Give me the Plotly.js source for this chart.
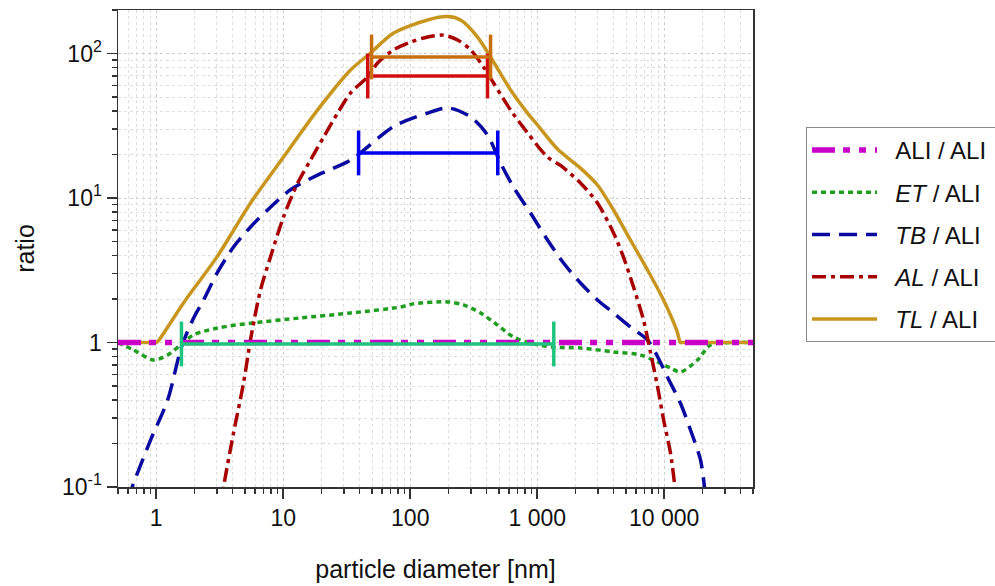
<!DOCTYPE html>
<html>
<head>
<meta charset="utf-8">
<script src="https://cdn.plot.ly/plotly-3.0.1.min.js"></script>
<style>html,body{margin:0;padding:0;background:#fff;}#chart{width:995px;height:586px;}</style>
</head>
<body>
<div id="chart"></div>
<script>
// particle diameter [nm] and ratio values
const xALI = [0.5, 50000];
const yALI = [1, 1];

const xET = [0.5, 0.663, 0.952, 1.23, 1.55, 1.97, 3.04, 5.53, 13.7, 33.9, 84, 106, 197, 263, 358, 487, 650, 885, 1343, 2190, 3990, 6500, 8850, 11200, 13400, 18300, 23100, 33200, 50000];
const yET = [1.0, 0.887, 0.757, 0.82, 0.96, 1.13, 1.26, 1.36, 1.48, 1.60, 1.76, 1.85, 1.91, 1.82, 1.60, 1.32, 1.09, 0.99, 0.93, 0.916, 0.86, 0.82, 0.733, 0.667, 0.625, 0.757, 0.96, 1.0, 1.0];

const xTB = [0.6, 0.647, 0.902, 1.23, 1.58, 1.97, 2.36, 3.02, 4.06, 5.53, 7.52, 11.4, 18.6, 33.9, 73.9, 137, 200, 299, 406, 514, 650, 885, 1205, 1611, 2190, 2980, 3990, 5420, 7380, 8850, 10600, 13400, 16100, 19300, 21000];
const yTB = [0.08, 0.1, 0.211, 0.40, 0.93, 1.48, 1.97, 3.03, 4.58, 6.30, 8.26, 11.4, 14.4, 18.3, 31.2, 38.7, 42, 36.4, 27.3, 17.5, 11.9, 7.87, 5.12, 3.55, 2.58, 1.97, 1.60, 1.28, 1.04, 0.8, 0.577, 0.381, 0.248, 0.154, 0.09];

const xAL = [3.2, 3.39, 4.06, 4.87, 5.53, 6.62, 7.94, 10.05, 13, 16.4, 20.8, 26.8, 33.9, 46.1, 55.3, 73.9, 100.5, 137, 183, 236, 299, 378, 453, 617, 839, 1205, 1526, 2190, 2980, 3990, 4770, 5730, 6870, 7810, 8870, 9890, 11200, 12500];
const yAL = [0.07, 0.1, 0.236, 0.525, 1.05, 2.31, 3.91, 7.39, 12.7, 18.3, 26.4, 38.7, 53.3, 68.8, 86, 106, 120, 130, 134, 124, 106, 80.7, 62.5, 40.6, 28.2, 19.2, 16.8, 12.7, 9.23, 5.73, 3.91, 2.42, 1.43, 0.846, 0.492, 0.291, 0.172, 0.08];

const xTL = [0.5, 0.97, 1.0, 1.05, 1.64, 3.02, 5.53, 10.05, 18.6, 33.9, 48.7, 73.9, 137, 197, 249, 339, 453, 617, 839, 1005, 1443, 2190, 2980, 3990, 5420, 7380, 9870, 12600, 13400, 13900, 50000];
const yTL = [1, 1, 1, 1.04, 1.88, 3.93, 9.23, 19.2, 40.6, 76.9, 100.8, 138.6, 170.6, 180, 170.6, 130, 87.4, 55.9, 38.7, 32, 21.8, 16.1, 12.3, 8.26, 5.12, 3.18, 1.97, 1.2, 1, 1, 1];

// range bars: [low, high], level
const barTLx = [49.6, 429], barTLy = 94.6;
const barALx = [46.3, 406], barALy = 69.8;
const barTBx = [39.2, 489], barTBy = 20.5;
const barETx = [1.58, 1350], barETy = 0.977;

// tick labels
const xTickVals = [1, 10, 100, 1000, 10000];
const xTickText = ['1', '10', '100', '1 000', '10 000'];
const yTickVals = [0.1, 1, 10, 100];
const yTickText = ['10<sup>-1</sup>', '1', '10<sup>1</sup>', '10<sup>2</sup>'];

const names = ['ALI / ALI', '<i>ET</i> / ALI', '<i>TB</i> / ALI', '<i>AL</i> / ALI', '<i>TL</i> / ALI'].map(s => '\u00a0\u00a0' + s + '\u00a0');

function minorVals(lo, hi) {
  const out = [];
  for (let e = lo; e <= hi; e++) {
    for (let m = 2; m <= 9; m++) out.push(m * Math.pow(10, e));
  }
  return out;
}

const FONT = 'Liberation Sans, Arial, sans-serif';

function curve(x, y, name, color, width, dash, rank) {
  return {
    x: x, y: y, type: 'scatter', mode: 'lines', name: name,
    line: {color: color, width: width, dash: dash, shape: 'spline', smoothing: 0.8},
    legendrank: rank, legendgroup: 'g' + rank
  };
}
function bar(xr, yv, color) {
  return {
    x: xr, y: [yv, yv], type: 'scatter', mode: 'lines+markers', showlegend: false,
    line: {color: color, width: 3.5},
    marker: {symbol: 'line-ns', size: 32, line: {color: color, width: 3.5}},
    hoverinfo: 'skip'
  };
}

const traces = [
  curve(xET, yET, names[1], '#1f9e1f', 3.5, '5px,4px', 2),
  curve(xTB, yTB, names[2], '#0a0aa0', 3.5, '18px,9px', 3),
  curve(xAL, yAL, names[3], '#a80000', 3.5, '14px,5px,4px,5px', 4),
  curve(xTL, yTL, names[4], '#c8961e', 3.5, 'solid', 5),
  {x: xALI, y: yALI, type: 'scatter', mode: 'lines', name: names[0],
   line: {color: '#c800c8', width: 5.5, dash: '23px,8px,7px,9px,7px,9px'}, legendrank: 1, legendgroup: 'g1'},
  bar(barETx, barETy, '#1ec47e'),
  bar(barTBx, barTBy, '#0000f0'),
  bar(barALx, barALy, '#d01010'),
  bar(barTLx, barTLy, '#c8700f')
];

const axisCommon = {
  type: 'log', tickmode: 'array', ticks: 'outside', ticklen: 10, tickwidth: 1.5, tickcolor: '#333',
  showline: true, linecolor: '#333', linewidth: 1.5, mirror: true,
  showgrid: true, gridcolor: '#cfcfcf', griddash: 'dot', gridwidth: 1, zeroline: false,
  tickfont: {family: FONT, size: 23, color: '#111'}
};

const layout = {
  width: 995, height: 586,
  margin: {l: 118, r: 242, t: 10, b: 99, autoexpand: false},
  paper_bgcolor: '#fff', plot_bgcolor: '#fff',
  font: {family: FONT, color: '#111'},
  showlegend: true,
  xaxis: Object.assign({}, axisCommon, {
    range: [Math.log10(0.5), Math.log10(50000)],
    tickvals: xTickVals, ticktext: xTickText,
    minor: {tickmode: 'array', tickvals: minorVals(-1, 4), ticks: 'outside', ticklen: 5, tickcolor: '#333', showgrid: true, gridcolor: '#dedede', griddash: 'dot', gridwidth: 1},
    title: {text: 'particle diameter [nm]', font: {family: FONT, size: 25, color: '#111'}, standoff: 30}
  }),
  yaxis: Object.assign({}, axisCommon, {
    range: [-1, Math.log10(200)],
    tickvals: yTickVals, ticktext: yTickText,
    minor: {tickmode: 'array', tickvals: minorVals(-1, 2), ticks: 'outside', ticklen: 5, tickcolor: '#333', showgrid: true, gridcolor: '#dedede', griddash: 'dot', gridwidth: 1},
    title: {text: 'ratio', font: {family: FONT, size: 25, color: '#111'}, standoff: 20}
  }),
  legend: {
    x: 1.0835, y: 0.7547, xanchor: 'left', yanchor: 'top',
    bordercolor: '#888', borderwidth: 1, bgcolor: '#fff',
    font: {family: FONT, size: 24, color: '#111'},
    itemwidth: 65, tracegroupgap: 8, traceorder: 'grouped'
  }
};

Plotly.newPlot('chart', traces, layout, {displayModeBar: false, staticPlot: true});
</script>
</body>
</html>
